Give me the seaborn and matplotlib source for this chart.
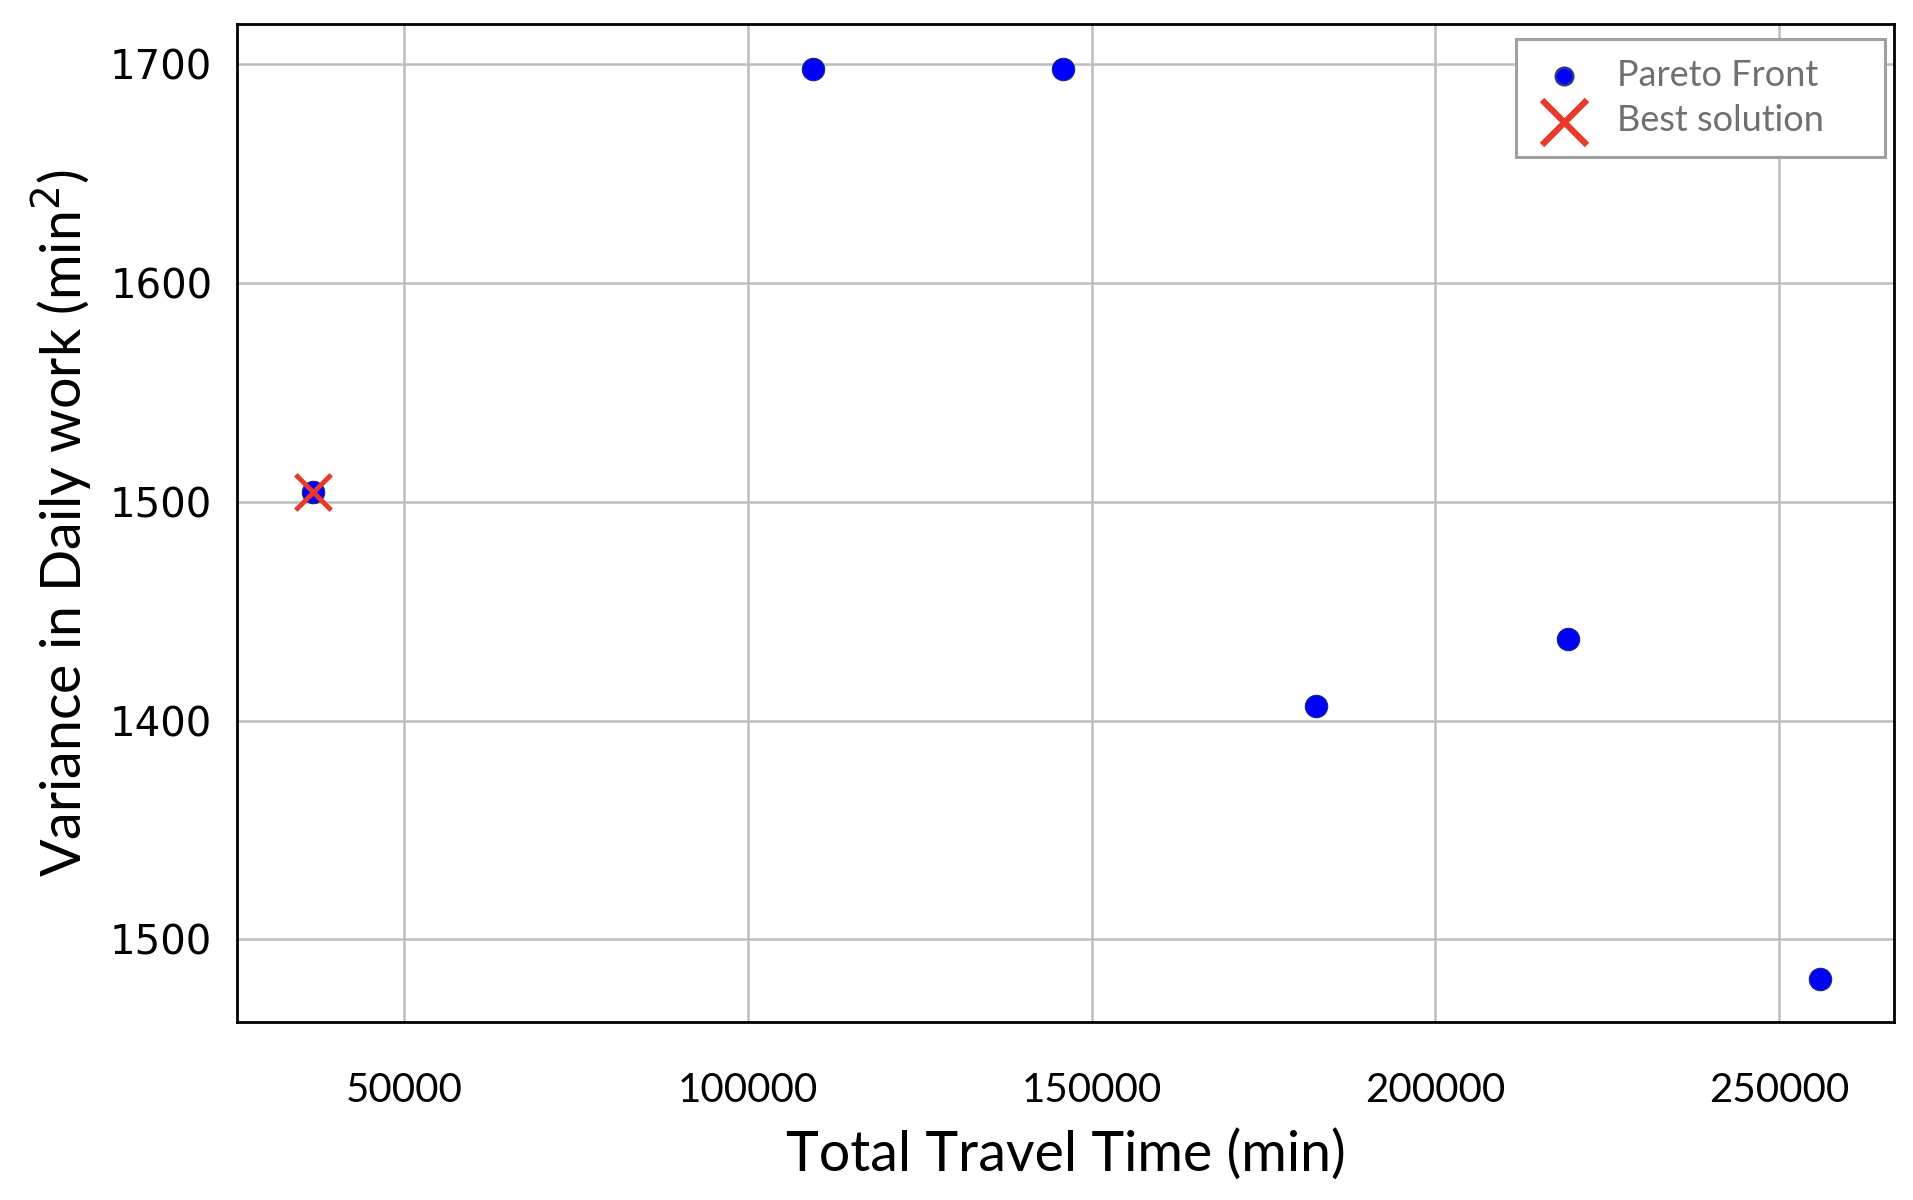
import numpy as np
import matplotlib.pyplot as plt
import pandas as pd
import seaborn as sns

# Pareto front points
travel_time = [36700, 109400, 145900, 182600, 219300, 256000]
variance = [1504.5, 1697.8, 1697.8, 1406.7, 1437.4, 1282.0]

best_time = [36700]
best_var = [1504.5]

y_ticks = [1300, 1400, 1500, 1600, 1700]
y_tick_labels = ["1500", "1400", "1500", "1600", "1700"]
x_ticks = [50000, 100000, 150000, 200000, 250000]

sns.set_style("whitegrid")
plt.rcParams['font.family'] = ['DejaVu Sans']

df = pd.DataFrame({"time": travel_time, "var": variance})

fig, ax = plt.subplots(figsize=(19.13, 12), dpi=100)
fig.subplots_adjust(left=0.124, right=0.99, top=0.98, bottom=0.148)

sns.scatterplot(data=df, x="time", y="var", ax=ax, color="#0000ff", s=260,
                edgecolor="#1a2a7a", linewidth=0.8, label="Pareto Front", zorder=3)
ax.scatter(best_time, best_var, marker="x", color="#e8392a", s=650,
           linewidths=3.5, label="Best solution", zorder=4)

ax.set_xlim(25700, 266700)
ax.set_ylim(1262, 1718.5)
ax.set_xticks(x_ticks)
ax.set_xticklabels([str(v) for v in x_ticks], fontfamily="Lato", fontsize=29)
ax.set_yticks(y_ticks)
ax.set_yticklabels(y_tick_labels, fontsize=29)

ax.grid(True, color="#bdbdbd", linewidth=1.8)
for s in ax.spines.values():
    s.set_visible(True)
    s.set_color("black")
    s.set_linewidth(2)
ax.tick_params(axis="both", direction="out", length=8, width=1.2, color="black",
               labelcolor="black", pad=10)
ax.tick_params(axis="x", pad=28)

ax.set_xlabel("Total Travel Time (min)", fontfamily="Lato", fontsize=40,
              labelpad=14, color="black")
ax.set_ylabel("Variance in Daily work (min$^2$)", fontfamily="Lato", fontsize=40,
              labelpad=11, color="black")

leg = ax.legend(loc="upper left", prop={"family": "Lato", "size": 26}, frameon=True,
                fancybox=False, edgecolor="#a0a0a0", framealpha=1,
                borderpad=0.55, handletextpad=0.7, labelspacing=0.35,
                handlelength=1.55, mode="expand", borderaxespad=0,
                bbox_to_anchor=(0.7717, 0.5, 0.2231, 0.4853))
leg.get_frame().set_linewidth(2.2)
for t in leg.get_texts():
    t.set_color("#707070")
dot, cross = leg.legend_handles
dot.set_sizes([160])
dot.set_edgecolor("#2a3a80")
dot.set_linewidth(1.8)
cross.set_sizes([1050])
cross.set_linewidth(4.5)

fig.savefig("out.png", dpi=100)
